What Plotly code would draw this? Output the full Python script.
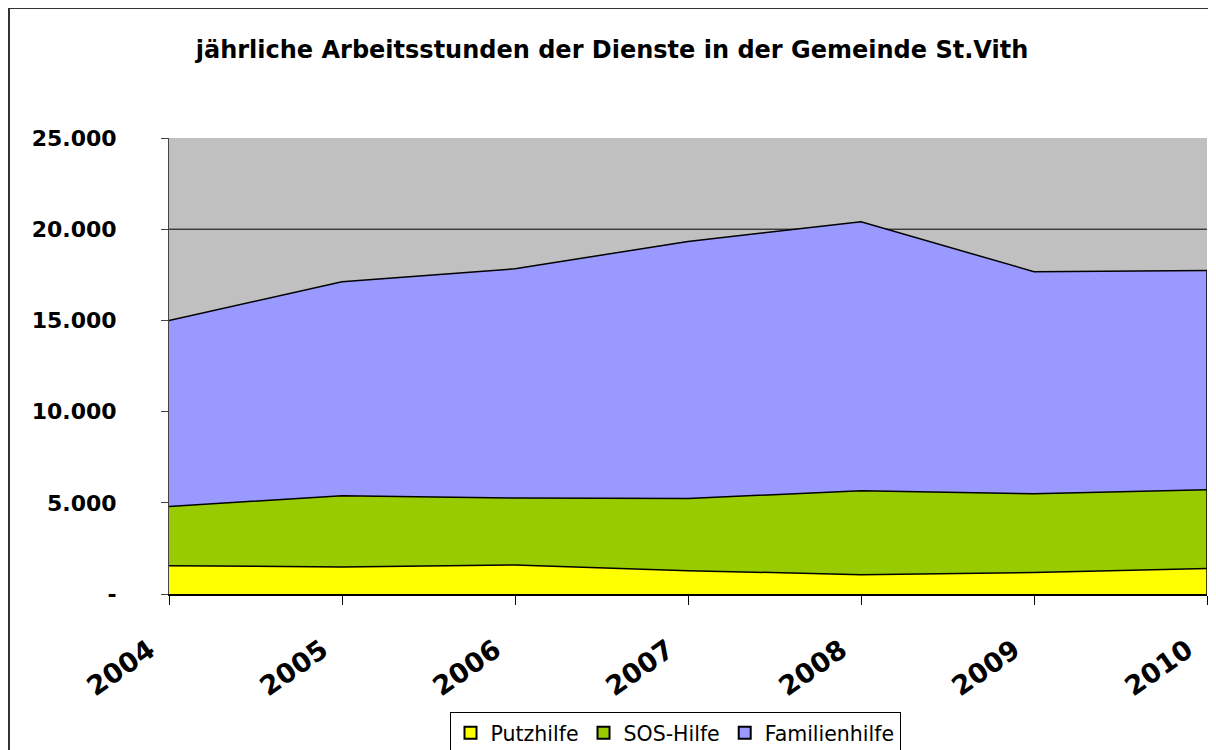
import plotly.graph_objects as go

years = [2004, 2005, 2006, 2007, 2008, 2009, 2010]
year_labels = ["2004", "2005", "2006", "2007", "2008", "2009", "2010"]
putzhilfe = [1550, 1480, 1590, 1280, 1060, 1180, 1400]
sos_hilfe = [3250, 3910, 3670, 3960, 4600, 4320, 4320]
familienhilfe = [10200, 11730, 12570, 14090, 14750, 12170, 12020]
y_tickvals = [0, 5000, 10000, 15000, 20000, 25000]
y_ticktext = ["-", "5.000", "10.000", "15.000", "20.000", "25.000"]

series = [
    ("Putzhilfe", putzhilfe, "#FFFF00"),
    ("SOS-Hilfe", sos_hilfe, "#99CC00"),
    ("Familienhilfe", familienhilfe, "#9999FF"),
]

FONT = "DejaVu Sans"
# the page body adds an 8px offset, so the figure is 8px smaller than the window
W, H = 1208, 742
ML, MR, MT, MB = 161, 9, 130, 156
PW, PH = W - ML - MR, H - MT - MB

fig = go.Figure()
for name, vals, col in series:
    fig.add_trace(go.Scatter(
        x=years, y=vals, name=name, stackgroup="one", mode="lines",
        line=dict(color="black", width=1.5), fillcolor=col,
        showlegend=False, hoverinfo="x+y+name",
    ))
for name, vals, col in series:
    fig.add_trace(go.Scatter(
        x=[None], y=[None], name=name, mode="markers",
        marker=dict(symbol="square", size=17, color=col,
                    line=dict(color="black", width=1.5)),
        showlegend=True,
    ))

totals = [a + b + c for a, b, c in zip(putzhilfe, sos_hilfe, familienhilfe)]

def px_x(p):
    return (p - ML) / PW

def px_y(p):
    return (H - MB - p) / PH

shapes = [
    dict(type="line", xref="paper", yref="y", x0=0, x1=1, y0=20000, y1=20000,
         line=dict(color="black", width=1), layer="below"),
    dict(type="line", xref="x", yref="y", x0=years[-1], x1=years[-1], y0=0, y1=totals[-1],
         line=dict(color="black", width=1.5)),
    dict(type="rect", xref="paper", yref="paper",
         x0=px_x(1), x1=px_x(1300), y0=px_y(800), y1=px_y(0),
         line=dict(color="#333333", width=2), fillcolor="rgba(0,0,0,0)"),
]

pad = "\u00a0\u00a0\u2009"
fig.update_layout(
    width=W, height=H,
    margin=dict(l=ML, r=MR, t=MT, b=MB, autoexpand=False),
    paper_bgcolor="white",
    plot_bgcolor="#C0C0C0",
    title=dict(text="<b>jährliche Arbeitsstunden der Dienste in der Gemeinde St.Vith</b>",
               x=0.5, xanchor="center", y=1 - 42 / H, yanchor="middle",
               font=dict(family=FONT, size=24, color="black")),
    font=dict(family=FONT, color="black"),
    showlegend=True,
    legend=dict(orientation="h", x=px_x(667), xanchor="center", y=px_y(704), yanchor="top",
                bordercolor="black", borderwidth=1, bgcolor="white",
                font=dict(family=FONT, size=20.5, color="black"),
                itemsizing="constant", traceorder="normal"),
    shapes=shapes,
)
fig.update_xaxes(
    range=[years[0], years[-1]], tickvals=years, ticktext=[t + pad for t in year_labels],
    tickangle=-35, tickfont=dict(family=FONT, size=27, color="black", weight="bold"),
    showgrid=False, zeroline=False, showline=True, linecolor="black", linewidth=2,
    ticks="outside", ticklen=9, tickcolor="black", tickwidth=1,
    ticklabelstandoff=5, ticklabeloverflow="allow", automargin=False,
)
fig.update_yaxes(
    range=[0, 25000], tickvals=y_tickvals, ticktext=y_ticktext,
    tickfont=dict(family=FONT, size=22, color="black", weight="bold"),
    showgrid=False, zeroline=False, showline=True, linecolor="#444444", linewidth=1,
    ticks="outside", ticklen=7, tickcolor="#444444", tickwidth=1,
    ticklabelstandoff=40, automargin=False,
)

fig.write_html("out.html")
